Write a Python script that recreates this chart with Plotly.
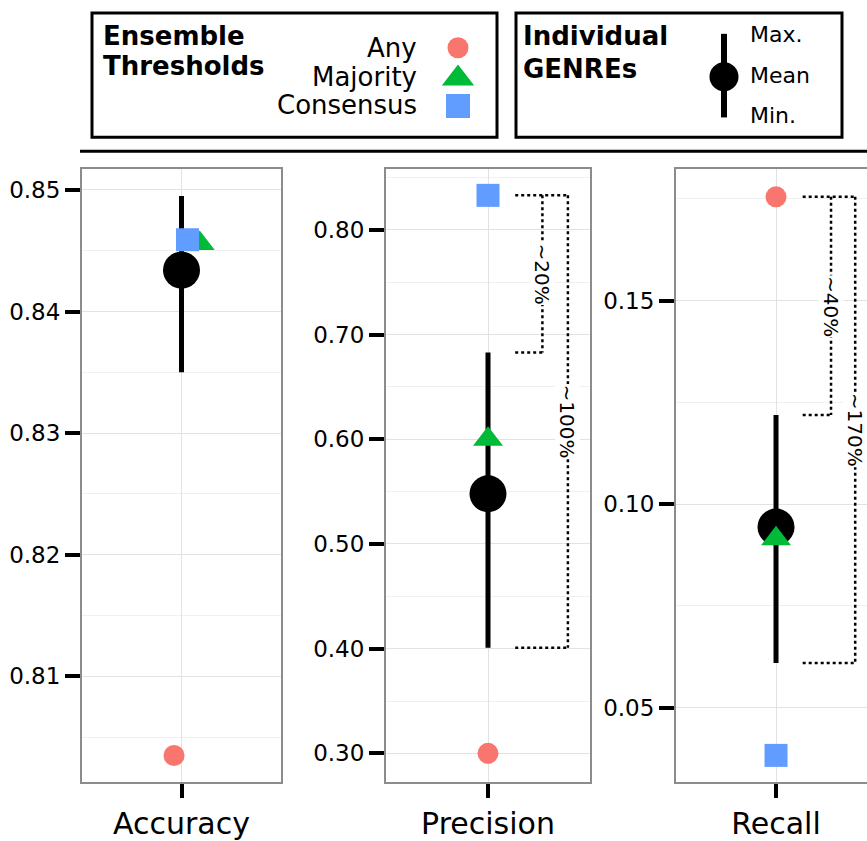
import plotly.graph_objects as go

# ---------------- data ----------------
metrics = ["Accuracy", "Precision", "Recall"]
genre_mean = [0.8434, 0.548, 0.0944]
genre_min = [0.8350, 0.401, 0.0610]
genre_max = [0.8495, 0.683, 0.1219]
ens_any = [0.8035, 0.300, 0.1755]
ens_majority = [0.8456, 0.600, 0.0915]
ens_consensus = [0.8459, 0.833, 0.0383]
gain_labels = [None, ["~20%", "~100%"], ["~40%", "~170%"]]
y_ticks_step = [0.01, 0.1, 0.05]
y_ranges = [[0.8013, 0.8517], [0.2724, 0.858], [0.0317, 0.1823]]

# ---------------- layout constants ----------------
W, H = 867, 841
FONT = "DejaVu Sans"
panels_px = [(82, 281), (386, 590), (676, 867)]
x_ranges = [[0.4, 1.6], [0.4, 1.6], [0.4, 0.4 + 191 / 166.7]]
P_TOP, P_BOT = 170, 786
# small horizontal jitter used in the accuracy panel (Any, Majority, Consensus)
jitter = {"Any": [-0.045, 0, 0], "Majority": [0.11, 0, 0], "Consensus": [0.036, 0, 0]}
bracket_x = [None, (1.16, 1.32, 1.47), (1.16, 1.33, 1.475)]


def px(x):
    return x / W


def py(y):
    return 1 - y / H


series = [
    ("Any", ens_any, "circle", "#F8766D", 21),
    ("Majority", ens_majority, "triangle-up", "#00BA38", 26),
    ("Consensus", ens_consensus, "square", "#619CFF", 23),
]

fig = go.Figure()
layout = dict(
    width=W, height=H, autosize=False,
    margin=dict(l=0, r=0, t=0, b=0),
    paper_bgcolor="white", plot_bgcolor="rgba(0,0,0,0)",
    showlegend=False,
    font=dict(family=FONT, color="black"),
)
shapes = []
annotations = []

for i, m in enumerate(metrics):
    xa = "x" if i == 0 else f"x{i+1}"
    ya = "y" if i == 0 else f"y{i+1}"
    fig.add_trace(go.Scatter(x=[1, 1], y=[genre_min[i], genre_max[i]], mode="lines",
                             line=dict(color="black", width=5), xaxis=xa, yaxis=ya,
                             hoverinfo="skip"))
    fig.add_trace(go.Scatter(x=[1], y=[genre_mean[i]], mode="markers",
                             marker=dict(symbol="circle", size=37, color="black", line=dict(width=0)),
                             xaxis=xa, yaxis=ya))
    for name, vals, sym, col, sz in series:
        fig.add_trace(go.Scatter(x=[1 + jitter[name][i]], y=[vals[i]], mode="markers", name=name,
                                 marker=dict(symbol=sym, size=sz, color=col, line=dict(width=0)),
                                 xaxis=xa, yaxis=ya, cliponaxis=False))
    x0, x1 = panels_px[i]
    dt = y_ticks_step[i]
    layout["xaxis" if i == 0 else f"xaxis{i+1}"] = dict(
        domain=[px(x0), px(x1)], range=x_ranges[i], anchor=ya,
        tickmode="array", tickvals=[1], ticktext=[m],
        ticks="outside", ticklen=14, tickwidth=4, tickcolor="black",
        tickfont=dict(size=30, family=FONT, color="black"),
        showline=True, linecolor="#8c8c8c", linewidth=2, mirror=True,
        showgrid=True, gridcolor="#e2e2e2", gridwidth=1.2, zeroline=False, fixedrange=True,
    )
    layout["yaxis" if i == 0 else f"yaxis{i+1}"] = dict(
        domain=[py(P_BOT), py(P_TOP)], range=y_ranges[i], anchor=xa,
        tick0=0, dtick=dt, tickformat=".2f",
        ticks="outside", ticklen=15, tickwidth=4, tickcolor="black",
        tickfont=dict(size=23, family=FONT, color="black"),
        showline=True, linecolor="#8c8c8c", linewidth=2, mirror=(i < 2),
        showgrid=True, gridcolor="#e2e2e2", gridwidth=1.2, zeroline=False, fixedrange=True,
        minor=dict(dtick=dt / 2, tick0=0, showgrid=True, gridcolor="#f0f0f0", gridwidth=1.2, ticks=""),
    )

    # improvement brackets
    if gain_labels[i] is not None:
        top = ens_consensus[i] if m == "Precision" else ens_any[i]
        xs, xi, xo = bracket_x[i]
        ln = dict(color="black", width=2.5, dash="dot")
        segs = [
            (xs, top, xo, top),
            (xi, top, xi, genre_max[i]),
            (xs, genre_max[i], xi, genre_max[i]),
            (xo, top, xo, genre_min[i]),
            (xs, genre_min[i], xo, genre_min[i]),
        ]
        for a, b, c, d in segs:
            shapes.append(dict(type="line", xref=xa, yref=ya, x0=a, y0=b, x1=c, y1=d, line=ln))
        for xx, lo, lab in [(xi, genre_max[i], gain_labels[i][0]), (xo, genre_min[i], gain_labels[i][1])]:
            annotations.append(dict(xref=xa, yref=ya, x=xx, y=(top + lo) / 2, text=lab,
                                    showarrow=False, textangle=90, bgcolor="white",
                                    font=dict(size=20, family=FONT, color="black"),
                                    borderpad=0))

# ---------------- legend-like header ----------------
layout["xaxis4"] = dict(domain=[0, 1], range=[0, W], visible=False, fixedrange=True, anchor="y4")
layout["yaxis4"] = dict(domain=[0, 1], range=[H, 0], visible=False, fixedrange=True, anchor="x4")

shapes.append(dict(type="rect", xref="paper", yref="paper", x0=px(92), x1=px(497), y0=py(13), y1=py(138),
                   line=dict(color="black", width=3), fillcolor="rgba(0,0,0,0)"))
shapes.append(dict(type="rect", xref="paper", yref="paper", x0=px(516), x1=px(842), y0=py(13), y1=py(138),
                   line=dict(color="black", width=3), fillcolor="rgba(0,0,0,0)"))
shapes.append(dict(type="line", xref="paper", yref="paper", x0=px(80), x1=1, y0=py(152), y1=py(152),
                   line=dict(color="black", width=3)))

def txt(x, y, s, size, anchor="left", bold=False):
    annotations.append(dict(xref="paper", yref="paper", x=px(x), y=py(y), text=f"<b>{s}</b>" if bold else s,
                            showarrow=False, xanchor=anchor, yanchor="middle", borderpad=0,
                            font=dict(size=size, family=FONT, color="black")))

txt(102, 36, "Ensemble", 26, bold=True)
txt(102, 66, "Thresholds", 26, bold=True)
txt(418, 48, "Any", 26, anchor="right")
txt(418, 77, "Majority", 26, anchor="right")
txt(418, 105, "Consensus", 26, anchor="right")
txt(522, 36, "Individual", 26, bold=True)
txt(522, 69, "GENREs", 26, bold=True)
txt(749, 35, "Max.", 22)
txt(749, 76, "Mean", 22)
txt(749, 116, "Min.", 22)

leg_y = {"Any": 48, "Majority": 79, "Consensus": 106.5}
leg_size = {"Any": 21, "Majority": 28, "Consensus": 24}
for name, vals, sym, col, sz in series:
    fig.add_trace(go.Scatter(x=[458], y=[leg_y[name]], mode="markers", xaxis="x4", yaxis="y4",
                             marker=dict(symbol=sym, size=leg_size[name], color=col, line=dict(width=0)),
                             hoverinfo="skip"))
fig.add_trace(go.Scatter(x=[724, 724], y=[34, 118], mode="lines", xaxis="x4", yaxis="y4",
                         line=dict(color="black", width=6), hoverinfo="skip"))
fig.add_trace(go.Scatter(x=[724], y=[77], mode="markers", xaxis="x4", yaxis="y4",
                         marker=dict(symbol="circle", size=29, color="black"), hoverinfo="skip"))

layout["shapes"] = shapes
layout["annotations"] = annotations
fig.update_layout(**layout)
fig.write_html("out.html", config={"displayModeBar": False},
               post_script="document.body.style.margin='0';")
